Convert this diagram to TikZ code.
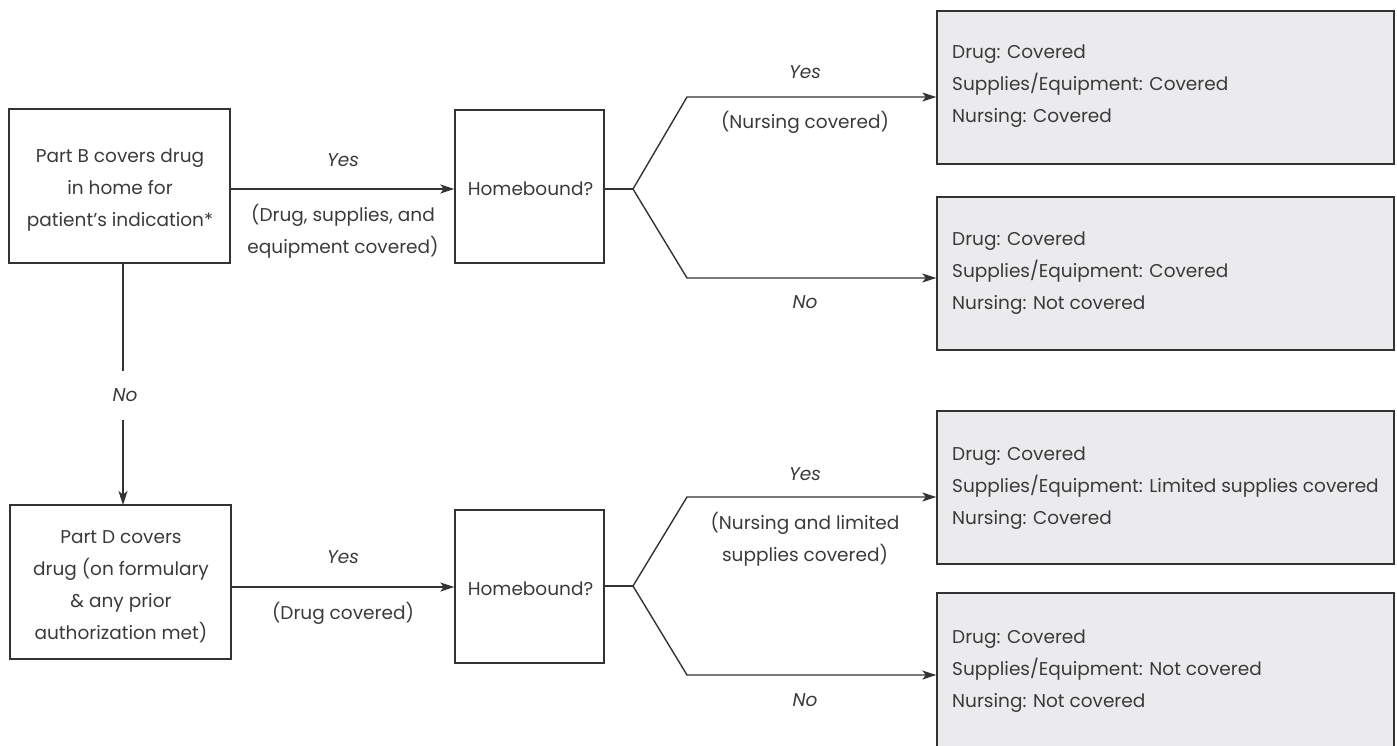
\documentclass[tikz,border=0pt]{standalone}
\usepackage{fontspec}
\setmainfont{Poppins}
\usetikzlibrary{arrows.meta}
\definecolor{ln}{HTML}{333333}
\definecolor{tx}{HTML}{3A3A3A}
\definecolor{gfill}{HTML}{EBEBED}
\tikzset{
  box/.style={draw=ln, line width=1.4pt, inner sep=0pt},
  gbox/.style={draw=ln, line width=1.4pt, fill=gfill, inner sep=0pt},
  gtext/.style={anchor=west, align=left, text=tx, inner sep=0pt},
  lbl/.style={text=tx, inner sep=0pt, align=center},
  conn/.style={draw=ln, line width=1.4pt},
  arr/.style={conn, -{Stealth[length=14pt,width=9pt,inset=3.5pt]}},
}
\newcommand{\fs}{\fontsize{18.5pt}{32pt}\selectfont}
\begin{document}
\begin{tikzpicture}[x=1pt,y=-1pt, font=\fs]
\useasboundingbox (0,0) rectangle (1397,746);
\clip (0,0) rectangle (1397,746);
% left boxes
\node[box, minimum width=221pt, minimum height=154pt] (B) at (119.5,186) {};
\node[lbl] (Bt) at (120,190) {Part B covers drug\\in home for\\patient’s indication*};
\node[box, minimum width=221pt, minimum height=154pt] (D) at (120.5,582) {};
\node[lbl] (Dt) at (121,587) {Part D covers\\drug (on formulary\\\& any prior\\authorization met)};
% homebound boxes
\node[box, minimum width=149pt, minimum height=153pt] (H1) at (529.5,186.5) {};
\node[lbl] (H1t) at (530.5,188.5) {Homebound?};
\node[box, minimum width=149pt, minimum height=153pt] (H2) at (529.5,586.5) {};
\node[lbl] (H2t) at (530.5,588.5) {Homebound?};
% result boxes
\node[gbox, minimum width=457pt, minimum height=153pt] (R1) at (1165.5,87.5) {};
\node[gbox, minimum width=457pt, minimum height=153pt] (R2) at (1165.5,273.5) {};
\node[gbox, minimum width=457pt, minimum height=153pt] (R3) at (1165.5,487.5) {};
\node[gbox, minimum width=457pt, minimum height=200pt] (R4) at (1165.5,693) {};
\node[gtext] (T1) at (952,86.5) {Drug: Covered\\Supplies/Equipment: Covered\\Nursing: Covered};
\node[gtext] (T2) at (952,273.5) {Drug: Covered\\Supplies/Equipment: Covered\\Nursing: Not covered};
\node[gtext] (T3) at (952,488.5) {Drug: Covered\\Supplies/Equipment: Limited supplies covered\\Nursing: Covered};
\node[gtext] (T4) at (952,671.5) {Drug: Covered\\Supplies/Equipment: Not covered\\Nursing: Not covered};
% B -> H1
\coordinate (b1) at (230,189);
\draw[arr] (b1) -- (H1.west |- b1);
\node[lbl] (y1) at (343,160) {\itshape Yes};
\node[lbl] (c1) at (343,231) {(Drug, supplies, and\\equipment covered)};
% B -> D
\node[lbl] (n1) at (125,395) {\itshape No};
\coordinate (v0) at (123,263);
\coordinate (v1) at (123,371);
\coordinate (v2) at (123,420);
\coordinate (v3) at (123,505);
\draw[conn] (v0) -- (v1);
\draw[arr] (v2) -- (v3);
% D -> H2
\coordinate (d1) at (231,587);
\draw[arr] (d1) -- (H2.west |- d1);
\node[lbl] (y2) at (343,557) {\itshape Yes};
\node[lbl] (c2) at (343,613) {(Drug covered)};
% H1 branches
\coordinate (j1) at (633,189);
\coordinate (j1a) at (687,97);
\coordinate (j1b) at (687,278);
\draw[conn] (H1.east |- j1) -- (j1);
\draw[arr] (j1) -- (j1a) -- (R1.west |- j1a);
\draw[arr] (j1) -- (j1b) -- (R2.west |- j1b);
\node[lbl] (y3) at (805,72) {\itshape Yes};
\node[lbl] (c3) at (805,122) {(Nursing covered)};
\node[lbl] (n3) at (805,302) {\itshape No};
% H2 branches
\coordinate (j2) at (633,586);
\coordinate (j2a) at (687,497);
\coordinate (j2b) at (687,675);
\draw[conn] (H2.east |- j2) -- (j2);
\draw[arr] (j2) -- (j2a) -- (R3.west |- j2a);
\draw[arr] (j2) -- (j2b) -- (R4.west |- j2b);
\node[lbl] (y4) at (805,474) {\itshape Yes};
\node[lbl] (c4) at (805,539) {(Nursing and limited\\supplies covered)};
\node[lbl] (n4) at (805,700) {\itshape No};
\end{tikzpicture}
\end{document}
